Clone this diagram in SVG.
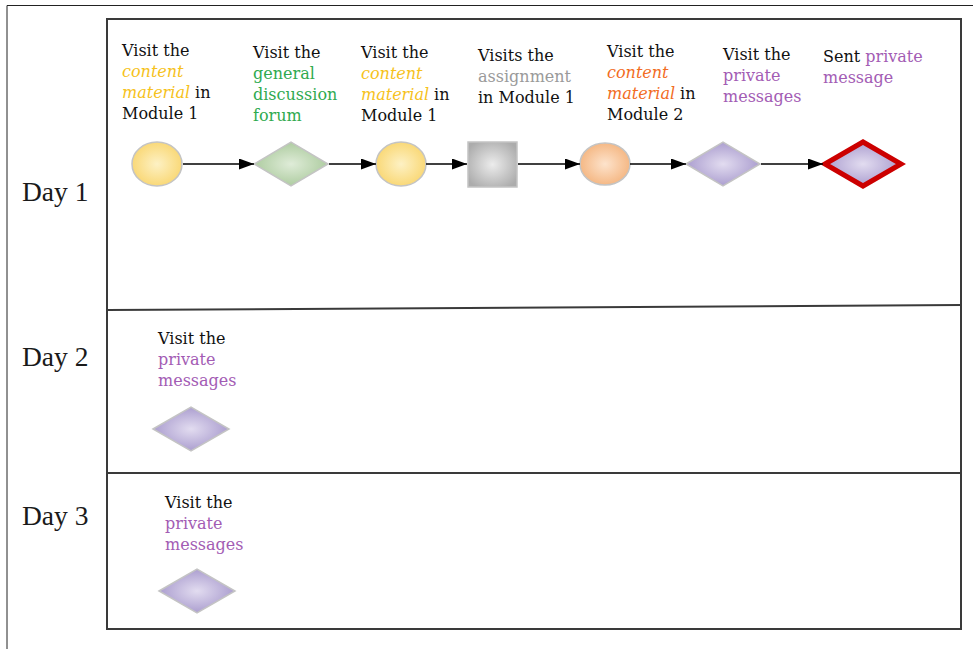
<svg xmlns="http://www.w3.org/2000/svg" width="973" height="649" viewBox="0 0 973 649">
  <style>
    .frame { fill: none; stroke: #222; stroke-width: 1; }
    .lane { fill: none; stroke: #3a3a3a; stroke-width: 2; }
    .day { font-family: "Liberation Serif", "Times New Roman", serif; font-size: 27.5px; fill: #1a1a1a; }
    .lbl { font-family: "DejaVu Serif", Georgia, serif; font-size: 16px; fill: #111; }
    .yel { fill: #f6c21c; font-style: italic; }
    .grn { fill: #2faa4f; }
    .gry { fill: #9a9a9a; }
    .org { fill: #f26d1f; font-style: italic; }
    .pur { fill: #a35cb4; }
    .shape { stroke: #c4c4c4; stroke-width: 1.5; }
    .edge { stroke: #000; stroke-width: 1.6; fill: none; marker-end: url(#arrow); }
  </style>
  <defs>
    <marker id="arrow" viewBox="0 0 15 11" refX="15" refY="5.5" markerWidth="15" markerHeight="11" markerUnits="userSpaceOnUse" orient="auto">
      <path d="M0,0 L15,5.5 L0,11 Z" fill="#000"/>
    </marker>
    <radialGradient id="gYellow" cx="50%" cy="50%" r="55%">
      <stop offset="0" stop-color="#fdf1c4"/>
      <stop offset="1" stop-color="#f9d670"/>
    </radialGradient>
    <radialGradient id="gGreen" cx="50%" cy="50%" r="55%">
      <stop offset="0" stop-color="#dfecd8"/>
      <stop offset="1" stop-color="#a9c99b"/>
    </radialGradient>
    <radialGradient id="gGray" cx="50%" cy="50%" r="60%">
      <stop offset="0" stop-color="#ececec"/>
      <stop offset="1" stop-color="#acacac"/>
    </radialGradient>
    <radialGradient id="gOrange" cx="50%" cy="50%" r="55%">
      <stop offset="0" stop-color="#fde3cc"/>
      <stop offset="1" stop-color="#f4b47e"/>
    </radialGradient>
    <radialGradient id="gPurple" cx="50%" cy="50%" r="55%">
      <stop offset="0" stop-color="#e2dcf0"/>
      <stop offset="1" stop-color="#a698cc"/>
    </radialGradient>
  </defs>

  <rect width="973" height="649" fill="#fff"/>

  <!-- outer page frame -->
  <path class="frame" d="M7,649 L7,5.5 L973,5.5"/>

  <!-- swimlane box and day dividers -->
  <g id="lanes">
    <rect class="lane" x="107" y="19" width="854" height="610"/>
    <line class="lane" x1="107" y1="310" x2="961" y2="305"/>
    <line class="lane" x1="107" y1="473" x2="961" y2="473"/>
  </g>

  <g id="day-labels">
    <text class="day" x="22" y="201">Day 1</text>
    <text class="day" x="22" y="366">Day 2</text>
    <text class="day" x="22" y="525">Day 3</text>
  </g>

  <!-- Day 1 sequence -->
  <g id="n1">
    <ellipse class="shape" cx="157" cy="164" rx="25" ry="22" fill="url(#gYellow)"/>
    <text class="lbl" x="122" y="56">Visit the</text>
    <text class="lbl yel" x="122" y="77">content</text>
    <text class="lbl" x="122" y="98"><tspan class="yel">material</tspan> in</text>
    <text class="lbl" x="122" y="119">Module 1</text>
  </g>
  <g id="n2">
    <polygon class="shape" points="254,164 291,142 328,164 291,186" fill="url(#gGreen)"/>
    <text class="lbl" x="253" y="58">Visit the</text>
    <text class="lbl grn" x="253" y="79">general</text>
    <text class="lbl grn" x="253" y="100">discussion</text>
    <text class="lbl grn" x="253" y="121">forum</text>
  </g>
  <g id="n3">
    <ellipse class="shape" cx="401" cy="164" rx="25" ry="22" fill="url(#gYellow)"/>
    <text class="lbl" x="361" y="58">Visit the</text>
    <text class="lbl yel" x="361" y="79">content</text>
    <text class="lbl" x="361" y="100"><tspan class="yel">material</tspan> in</text>
    <text class="lbl" x="361" y="121">Module 1</text>
  </g>
  <g id="n4">
    <rect class="shape" x="468" y="142" width="49" height="45" fill="url(#gGray)" stroke="#d0d0d0"/>
    <text class="lbl" x="478" y="61">Visits the</text>
    <text class="lbl gry" x="478" y="82">assignment</text>
    <text class="lbl" x="478" y="103">in Module 1</text>
  </g>
  <g id="n5">
    <ellipse class="shape" cx="605" cy="164" rx="25" ry="21" fill="url(#gOrange)"/>
    <text class="lbl" x="607" y="57">Visit the</text>
    <text class="lbl org" x="607" y="78">content</text>
    <text class="lbl" x="607" y="99"><tspan class="org">material</tspan> in</text>
    <text class="lbl" x="607" y="120">Module 2</text>
  </g>
  <g id="n6">
    <polygon class="shape" points="686,164 723,142 760,164 723,186" fill="url(#gPurple)"/>
    <text class="lbl" x="723" y="60">Visit the</text>
    <text class="lbl pur" x="723" y="81">private</text>
    <text class="lbl pur" x="723" y="102">messages</text>
  </g>
  <g id="n7">
    <polygon points="825,164 863,142 901,164 863,186" fill="url(#gPurple)" stroke="#cc0000" stroke-width="5" stroke-linejoin="miter"/>
    <text class="lbl" x="823" y="62">Sent <tspan class="pur">private</tspan></text>
    <text class="lbl pur" x="823" y="83">message</text>
  </g>

  <g id="connectors">
    <line class="edge" x1="183" y1="164" x2="254" y2="164"/>
    <line class="edge" x1="329" y1="164" x2="376" y2="164"/>
    <line class="edge" x1="426" y1="164" x2="467" y2="164"/>
    <line class="edge" x1="518" y1="164" x2="580" y2="164"/>
    <line class="edge" x1="630" y1="164" x2="686" y2="164"/>
    <line class="edge" x1="761" y1="164" x2="823" y2="164"/>
  </g>

  <!-- Day 2 -->
  <g id="d2">
    <polygon class="shape" points="153,429 191,407 229,429 191,451" fill="url(#gPurple)"/>
    <text class="lbl" x="158" y="344">Visit the</text>
    <text class="lbl pur" x="158" y="365">private</text>
    <text class="lbl pur" x="158" y="386">messages</text>
  </g>

  <!-- Day 3 -->
  <g id="d3">
    <polygon class="shape" points="159,591 197,569 235,591 197,613" fill="url(#gPurple)"/>
    <text class="lbl" x="165" y="508">Visit the</text>
    <text class="lbl pur" x="165" y="529">private</text>
    <text class="lbl pur" x="165" y="550">messages</text>
  </g>
</svg>
